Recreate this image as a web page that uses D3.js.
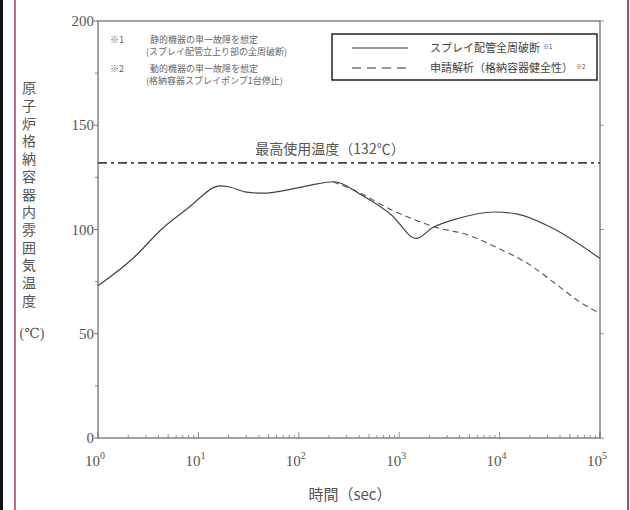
<!DOCTYPE html>
<html>
<head>
<meta charset="utf-8">
<script src="https://cdn.jsdelivr.net/npm/d3@7"></script>
<style>
  body { margin: 0; background: #fff; }
  svg { display: block; }
</style>
</head>
<body>
<svg id="chart" width="630" height="510"></svg>
<script>
// spray pipe full break (solid)
var timeSolid = [1, 2.28, 4.27, 8.7, 11, 13.5, 16.2, 20.4, 30.2, 44.7, 77.6, 135, 219, 447, 832, 1480, 2140, 3980, 8710, 15100, 33100, 100000];
var tempSolid = [73, 86.6, 100, 112, 116.3, 119.6, 120.9, 120.4, 117.9, 117.4, 119, 121.4, 122.9, 115.8, 107.1, 95.7, 100.8, 105.5, 108.4, 107.4, 100.8, 86.1];
// application analysis (dashed)
var timeDash = [219, 380, 832, 1550, 2290, 4680, 10200, 19500, 36300, 63100, 100000];
var tempDash = [122.9, 118.2, 109.5, 104, 101.1, 97.6, 90.5, 83.4, 73.9, 65.2, 59.8];
var maxTemp = 132;
var yTicks = [0, 50, 100, 150, 200];
var xTicks = [1, 10, 100, 1000, 10000, 100000];
var legendLabels = ["スプレイ配管全周破断", "申請解析（格納容器健全性）"];
var legendMarks = ["※1", "※2"];
var notes = [
  ["※1", "静的機器の単一故障を想定", "(スプレイ配管立上り部の全周破断)"],
  ["※2", "動的機器の単一故障を想定", "(格納容器スプレイポンプ1台停止)"]
];
var yLabel = "原子炉格納容器内雰囲気温度";

var svg = d3.select("#chart");
var serif = "'Liberation Serif', 'DejaVu Serif', serif";
var jp = "'Noto Sans CJK JP', sans-serif";
var ink = "#555";

// page frame
svg.append("rect").attr("x", 0).attr("y", 0).attr("width", 3).attr("height", 510).attr("fill", "#111");
svg.append("line").attr("x1", 15).attr("x2", 15).attr("y1", 0).attr("y2", 510).attr("stroke", "#b24a66").attr("stroke-width", 1.6);
svg.append("line").attr("x1", 628).attr("x2", 628).attr("y1", 0).attr("y2", 510).attr("stroke", "#b24a66").attr("stroke-width", 2);

var x = d3.scaleLog().domain([1, 100000]).range([98, 600]);
var y = d3.scaleLinear().domain([0, 200]).range([438, 21]);

// minor x ticks
var minor = [];
for (var d = 1; d < 100000; d *= 10) {
  for (var k = 2; k <= 9; k++) minor.push(d * k);
}
var g = svg.append("g");
g.selectAll(".mx").data(minor).enter().append("line")
  .attr("x1", function(v) { return x(v); }).attr("x2", function(v) { return x(v); })
  .attr("y1", y(0)).attr("y2", function(v) { return y(0) - (String(v)[0] === "5" ? 4 : 3); })
  .attr("stroke", "#777").attr("stroke-width", 0.8);
g.selectAll(".mxt").data(xTicks).enter().append("line")
  .attr("x1", function(v) { return x(v); }).attr("x2", function(v) { return x(v); })
  .attr("y1", y(0)).attr("y2", y(0) - 6)
  .attr("stroke", "#777").attr("stroke-width", 0.8);

// y ticks (major + minor), both sides
var yMinor = d3.range(25, 200, 50);
g.selectAll(".ymj").data(yTicks).enter().append("line")
  .attr("x1", x(1) - 4).attr("x2", x(1))
  .attr("y1", function(v) { return y(v); }).attr("y2", function(v) { return y(v); })
  .attr("stroke", "#777");
g.selectAll(".ymn").data(yMinor).enter().append("line")
  .attr("x1", x(1) - 3).attr("x2", x(1))
  .attr("y1", function(v) { return y(v); }).attr("y2", function(v) { return y(v); })
  .attr("stroke", "#888");
g.selectAll(".ymjr").data(yTicks).enter().append("line")
  .attr("x1", x(100000)).attr("x2", x(100000) + 4)
  .attr("y1", function(v) { return y(v); }).attr("y2", function(v) { return y(v); })
  .attr("stroke", "#999");

// plot frame
svg.append("rect").attr("x", x(1)).attr("y", y(200))
  .attr("width", x(100000) - x(1)).attr("height", y(0) - y(200))
  .attr("fill", "none").attr("stroke", "#666").attr("stroke-width", 1.2);

// y tick labels
svg.selectAll(".yl").data(yTicks).enter().append("text")
  .attr("x", x(1) - 4).attr("y", function(v) { return y(v) + 5; })
  .attr("text-anchor", "end").attr("font-family", serif).attr("font-size", 15).attr("fill", ink)
  .text(function(v) { return v; });

// x tick labels 10^n
xTicks.forEach(function(v, i) {
  var t = svg.append("text").attr("x", x(v) - 3).attr("y", 466)
    .attr("text-anchor", "middle").attr("font-family", serif).attr("font-size", 15).attr("fill", ink);
  t.append("tspan").text("10");
  t.append("tspan").attr("dy", -7).attr("font-size", 10).text(i);
});

// axis titles
svg.append("text").attr("x", 350).attr("y", 500).attr("text-anchor", "middle")
  .attr("font-family", jp).attr("font-size", 15).attr("fill", ink).text("時間（sec）");
svg.append("text").attr("x", 29).attr("y", 81)
  .style("writing-mode", "vertical-rl").attr("letter-spacing", 3.7)
  .attr("font-family", jp).attr("font-size", 14).attr("fill", ink).text(yLabel);
svg.append("text").attr("x", 32).attr("y", 338).attr("text-anchor", "middle")
  .attr("font-family", serif).attr("font-size", 14).attr("fill", ink).text("(℃)");

// max temp line
svg.append("line").attr("x1", x(1)).attr("x2", x(100000))
  .attr("y1", y(maxTemp)).attr("y2", y(maxTemp))
  .attr("stroke", "#444").attr("stroke-width", 1.8).attr("stroke-dasharray", "9,4,3,4");
svg.append("text").attr("x", 330).attr("y", y(maxTemp) - 9).attr("text-anchor", "middle")
  .attr("font-family", jp).attr("font-size", 14).attr("fill", ink).text("最高使用温度（132℃）");

// curves
var line = d3.line()
  .x(function(d) { return x(d[0]); })
  .y(function(d) { return y(d[1]); })
  .curve(d3.curveMonotoneX);
svg.append("path").datum(d3.zip(timeDash, tempDash)).attr("d", line)
  .attr("fill", "none").attr("stroke", "#555").attr("stroke-width", 1.1).attr("stroke-dasharray", "6,4");
svg.append("path").datum(d3.zip(timeSolid, tempSolid)).attr("d", line)
  .attr("fill", "none").attr("stroke", "#444").attr("stroke-width", 1.2);

// notes
notes.forEach(function(n, i) {
  var yy = 43 + i * 29;
  svg.append("text").attr("x", 110).attr("y", yy).attr("font-family", jp).attr("font-size", 9).attr("fill", "#666").text(n[0]);
  svg.append("text").attr("x", 150).attr("y", yy).attr("font-family", jp).attr("font-size", 9).attr("fill", "#666").text(n[1]);
  svg.append("text").attr("x", 146).attr("y", yy + 12).attr("font-family", jp).attr("font-size", 9).attr("fill", "#666").text(n[2]);
});

// legend
svg.append("rect").attr("x", 332).attr("y", 34).attr("width", 265).attr("height", 46)
  .attr("fill", "#fff").attr("stroke", "#222").attr("stroke-width", 1.5);
legendLabels.forEach(function(l, i) {
  var yy = 48 + i * 20;
  svg.append("line").attr("x1", 352).attr("x2", 408).attr("y1", yy).attr("y2", yy)
    .attr("stroke", "#333").attr("stroke-width", 1.2)
    .attr("stroke-dasharray", i === 1 ? "9,6" : null);
  var t = svg.append("text").attr("x", 430).attr("y", yy + 4).attr("font-family", jp)
    .attr("font-size", 11).attr("fill", "#444");
  t.append("tspan").text(l);
  t.append("tspan").attr("dx", 3).attr("dy", -3).attr("font-size", 6).text(legendMarks[i]);
});
</script>
</body>
</html>
